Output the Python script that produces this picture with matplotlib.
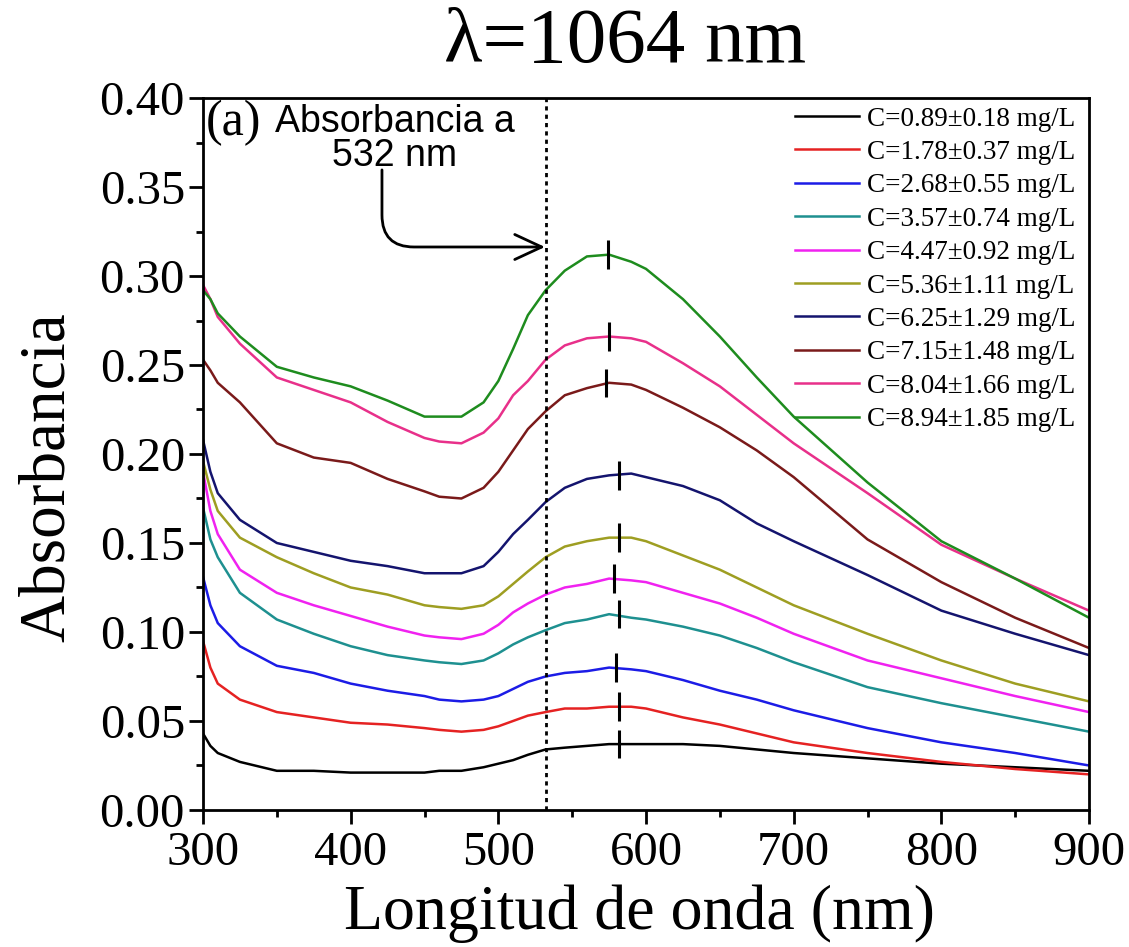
import matplotlib
matplotlib.use("Agg")
import matplotlib.pyplot as plt
from matplotlib.ticker import MultipleLocator, FormatStrFormatter

plt.rcParams['font.family'] = ['Liberation Serif', 'DejaVu Serif']

# ---------------- data ----------------
wavelength = [300, 305, 310, 325, 350, 375, 400, 425, 450, 460, 475, 490, 500, 510,
              520, 532, 545, 560, 575, 590, 600, 625, 650, 675, 700, 750, 800, 850, 900]

abs_c089 = [0.043, 0.036, 0.032, 0.027, 0.022, 0.022, 0.021, 0.021, 0.021, 0.022,
            0.022, 0.024, 0.026, 0.028, 0.031, 0.034, 0.035, 0.036, 0.037, 0.037,
            0.037, 0.037, 0.036, 0.034, 0.032, 0.029, 0.026, 0.024, 0.022]
abs_c178 = [0.095, 0.080, 0.071, 0.062, 0.055, 0.052, 0.049, 0.048, 0.046, 0.045,
            0.044, 0.045, 0.047, 0.050, 0.053, 0.055, 0.057, 0.057, 0.058, 0.058,
            0.057, 0.052, 0.048, 0.043, 0.038, 0.032, 0.027, 0.023, 0.020]
abs_c268 = [0.131, 0.115, 0.105, 0.092, 0.081, 0.077, 0.071, 0.067, 0.064, 0.062,
            0.061, 0.062, 0.064, 0.068, 0.072, 0.075, 0.077, 0.078, 0.080, 0.079,
            0.078, 0.073, 0.067, 0.062, 0.056, 0.046, 0.038, 0.032, 0.025]
abs_c357 = [0.170, 0.152, 0.142, 0.122, 0.107, 0.099, 0.092, 0.087, 0.084, 0.083,
            0.082, 0.084, 0.088, 0.093, 0.097, 0.101, 0.105, 0.107, 0.110, 0.108,
            0.107, 0.103, 0.098, 0.091, 0.083, 0.069, 0.060, 0.052, 0.044]
abs_c447 = [0.190, 0.168, 0.155, 0.135, 0.122, 0.115, 0.109, 0.103, 0.098, 0.097,
            0.096, 0.099, 0.104, 0.111, 0.116, 0.121, 0.125, 0.127, 0.130, 0.129,
            0.128, 0.122, 0.116, 0.108, 0.099, 0.084, 0.074, 0.064, 0.055]
abs_c536 = [0.196, 0.180, 0.168, 0.153, 0.142, 0.133, 0.125, 0.121, 0.115, 0.114,
            0.113, 0.115, 0.120, 0.127, 0.134, 0.142, 0.148, 0.151, 0.153, 0.153,
            0.151, 0.143, 0.135, 0.125, 0.115, 0.099, 0.084, 0.071, 0.061]
abs_c625 = [0.208, 0.190, 0.178, 0.163, 0.150, 0.145, 0.140, 0.137, 0.133, 0.133,
            0.133, 0.137, 0.145, 0.155, 0.163, 0.173, 0.181, 0.186, 0.188, 0.189,
            0.187, 0.182, 0.174, 0.161, 0.151, 0.132, 0.112, 0.099, 0.087]
abs_c715 = [0.253, 0.247, 0.240, 0.229, 0.206, 0.198, 0.195, 0.186, 0.179, 0.176,
            0.175, 0.181, 0.190, 0.202, 0.214, 0.224, 0.233, 0.237, 0.240, 0.239,
            0.236, 0.226, 0.215, 0.202, 0.187, 0.152, 0.128, 0.108, 0.091]
abs_c804 = [0.295, 0.287, 0.277, 0.262, 0.243, 0.236, 0.229, 0.218, 0.209, 0.207,
            0.206, 0.212, 0.220, 0.233, 0.241, 0.253, 0.261, 0.265, 0.266, 0.265,
            0.263, 0.251, 0.238, 0.222, 0.206, 0.178, 0.149, 0.130, 0.112]
abs_c894 = [0.292, 0.287, 0.279, 0.266, 0.249, 0.243, 0.238, 0.230, 0.221, 0.221,
            0.221, 0.229, 0.241, 0.259, 0.278, 0.292, 0.303, 0.311, 0.312, 0.308,
            0.304, 0.287, 0.266, 0.243, 0.221, 0.184, 0.151, 0.130, 0.108]

series = [abs_c089, abs_c178, abs_c268, abs_c357, abs_c447,
          abs_c536, abs_c625, abs_c715, abs_c804, abs_c894]

labels = ["C=0.89±0.18 mg/L", "C=1.78±0.37 mg/L", "C=2.68±0.55 mg/L",
          "C=3.57±0.74 mg/L", "C=4.47±0.92 mg/L", "C=5.36±1.11 mg/L",
          "C=6.25±1.29 mg/L", "C=7.15±1.48 mg/L", "C=8.04±1.66 mg/L",
          "C=8.94±1.85 mg/L"]

colors = ['#000000', '#E52222', '#1C1CE6', '#1E9090', '#F022F0',
          '#9E9E22', '#14146E', '#7A1A1A', '#E8308A', '#1E8C1E']

# peak markers (wavelength, absorbance at the marker centre)
peak_wl = [582, 582, 580, 582, 578, 582, 582, 573, 575, 574]
peak_abs = [0.037, 0.058, 0.080, 0.110, 0.130, 0.153, 0.188, 0.240, 0.266, 0.312]

laser_line = 532

# ---------------- figure ----------------
fig = plt.figure(figsize=(11.29, 9.47), dpi=100)
ax = fig.add_axes([0.1798, 0.1447, 0.9646 - 0.1798, 0.8965 - 0.1447])

for y, c, lab in zip(series, colors, labels):
    ax.plot(wavelength, y, color=c, lw=1.8, label=lab)

half = 0.008
ax.vlines(peak_wl, [p - half for p in peak_abs], [p + half for p in peak_abs],
          color='black', lw=2.2, zorder=5)

ax.axvline(laser_line, color='black', lw=2, linestyle=(0, (1.5, 1.5)))

ax.set_xlim(300, 900)
ax.set_ylim(0, 0.40)
ax.xaxis.set_major_locator(MultipleLocator(100))
ax.xaxis.set_minor_locator(MultipleLocator(50))
ax.yaxis.set_major_locator(MultipleLocator(0.05))
ax.yaxis.set_minor_locator(MultipleLocator(0.025))
ax.yaxis.set_major_formatter(FormatStrFormatter('%.2f'))

ax.tick_params(which='both', direction='out', top=False, right=False, width=2)
ax.tick_params(which='major', length=10, labelsize=35)
ax.tick_params(which='minor', length=5)
ax.tick_params(axis='y', which='major', pad=3)
ax.tick_params(axis='x', which='major', pad=5)
for s in ax.spines.values():
    s.set_linewidth(2)

ax.set_xlabel("Longitud de onda (nm)", fontsize=46)
ax.set_ylabel("Absorbancia", fontsize=47)
ax.xaxis.set_label_coords(0.493, -0.105)
ax.yaxis.set_label_coords(-0.141, 0.468)

fig.text(625 / 1129, 1 - 62 / 947, "λ=1064 nm", fontsize=57, ha='center', va='baseline')

ax.text(0.003, 0.997, "(a)", transform=ax.transAxes, fontsize=36, ha='left', va='top')
ax.text(430, 0.377, "Absorbancia a\n532 nm", fontsize=27, ha='center', va='center',
        family=['Liberation Sans', 'DejaVu Sans'], linespacing=0.95)
ax.annotate('', xy=(531.6, 0.3163), xytext=(421.2, 0.3596),
            arrowprops=dict(arrowstyle='->,head_length=0.97,head_width=0.45',
                            mutation_scale=20,
                            connectionstyle='angle,angleA=90,angleB=0,rad=32',
                            lw=2, color='black', shrinkA=0, shrinkB=0))

ax.legend(loc='upper right', bbox_to_anchor=(0.985, 0.988), frameon=False,
          fontsize=19.5, borderaxespad=0, borderpad=0, labelspacing=0.31,
          handlelength=2.35, handletextpad=0.3)

fig.savefig("out.png", dpi=100)
